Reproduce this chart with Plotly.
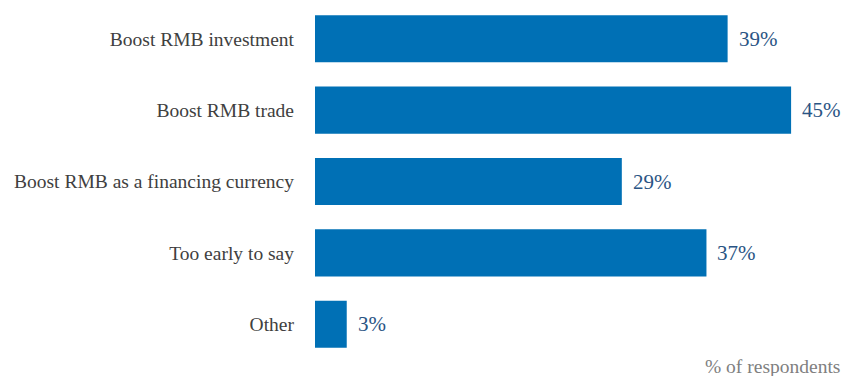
import plotly.graph_objects as go

categories = [
    "Boost RMB investment",
    "Boost RMB trade",
    "Boost RMB as a financing currency",
    "Too early to say",
    "Other",
]
values = [39, 45, 29, 37, 3]
value_labels = [f"{v}%" for v in values]

BAR_COLOR = "#0070b5"
LABEL_COLOR = "#2a5484"
TEXT_COLOR = "#404040"
FONT = "Liberation Serif"

fig = go.Figure(
    go.Bar(
        x=values,
        y=categories,
        orientation="h",
        marker=dict(color=BAR_COLOR, line=dict(width=0)),
        hoverinfo="skip",
    )
)

# value labels to the right of each bar
for cat, v, lab in zip(categories, values, value_labels):
    fig.add_annotation(
        x=v, y=cat, text=lab, showarrow=False,
        xanchor="left", yanchor="middle", xshift=9,
        font=dict(family=FONT, size=21, color=LABEL_COLOR),
    )

fig.add_annotation(
    x=1, y=0, xref="paper", yref="paper", yshift=-6,
    text="% of respondents", showarrow=False,
    xanchor="right", yanchor="middle", xshift=-2,
    font=dict(family=FONT, size=19.5, color="#808080"),
)

fig.update_layout(
    width=844, height=376,
    margin=dict(l=315, r=0, t=3, b=16),
    paper_bgcolor="white", plot_bgcolor="white",
    bargap=0.34,
    showlegend=False,
    font=dict(family=FONT, size=19.5, color=TEXT_COLOR),
)
fig.update_xaxes(range=[0, 50], visible=False)
fig.update_yaxes(
    autorange="reversed",
    showline=False, showgrid=False, zeroline=False,
    ticks="", ticklabelstandoff=20,
    tickfont=dict(family=FONT, size=19.5, color=TEXT_COLOR),
)

fig.write_html("out.html")
